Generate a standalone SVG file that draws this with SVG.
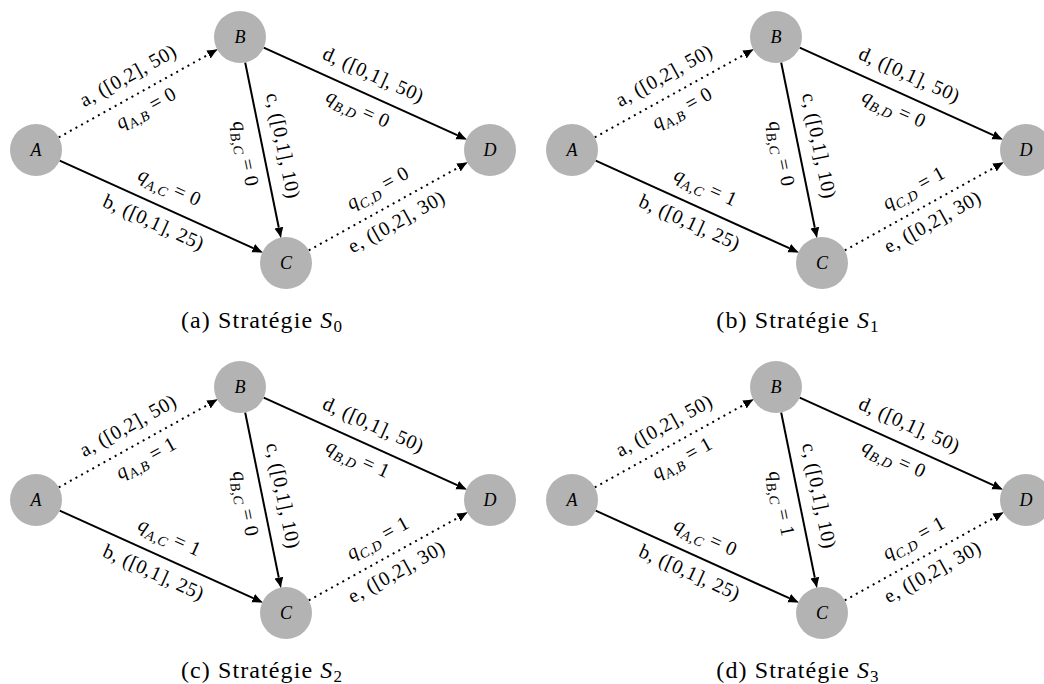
<svg xmlns="http://www.w3.org/2000/svg" width="1044" height="684" viewBox="0 0 1044 684">
<style>
  .node circle { fill: #b3b3b3; stroke: none; }
  .node text { font-family: "Liberation Serif", "DejaVu Serif", serif; font-style: italic; font-size: 18px; text-anchor: middle; fill: #000; }
  .edge { fill: none; stroke: #000; stroke-width: 2; }
  .solid { marker-end: url(#arr); }
  .dotted { stroke-dasharray: 2 4.4; marker-end: url(#arr); }
  .lbl { font-family: "Liberation Serif", "DejaVu Serif", serif; font-size: 20px; letter-spacing: 0.5px; text-anchor: middle; fill: #000; }
  .it { font-style: italic; }
  .sub { font-size: 14px; font-style: italic; }
  .cap { font-family: "Liberation Serif", "DejaVu Serif", serif; font-size: 24px; letter-spacing: 1.1px; text-anchor: middle; fill: #000; }
</style>
<defs>
  <marker id="arr" markerUnits="userSpaceOnUse" markerWidth="13" markerHeight="11" refX="0" refY="5" orient="auto">
    <path d="M0,0.5 Q6,3.6 11,5 Q6,6.4 0,9.5 z" fill="#000"/>
  </marker>
</defs>

<!-- (a) -->
<g id="fig-a">
  <g id="a-edges">
    <line class="edge dotted" x1="58.74" y1="137.40" x2="208.51" y2="54.45"/>
    <line class="edge solid" x1="59.69" y1="160.71" x2="253.20" y2="248.17"/>
    <line class="edge solid" x1="245.19" y1="62.48" x2="278.82" y2="227.72"/>
    <line class="edge solid" x1="263.69" y1="47.71" x2="457.20" y2="135.17"/>
    <line class="edge dotted" x1="308.74" y1="250.40" x2="458.51" y2="167.45"/>
    <g transform="translate(138,93.5) rotate(-28.98)">
      <text class="lbl" y="-14">a, ([0,2], 50)</text>
      <text class="lbl" y="23"><tspan class="it">q</tspan><tspan class="sub" dy="5">A,B</tspan><tspan dy="-5"> = 0</tspan></text>
    </g>
    <g transform="translate(161,206.5) rotate(24.32)">
      <text class="lbl" y="-15"><tspan class="it">q</tspan><tspan class="sub" dy="5">A,C</tspan><tspan dy="-5"> = 0</tspan></text>
      <text class="lbl" y="24">b, ([0,1], 25)</text>
    </g>
    <g transform="translate(263,150) rotate(78.49)">
      <text class="lbl" y="-14">c, ([0,1], 10)</text>
      <text class="lbl" y="24"><tspan class="it">q</tspan><tspan class="sub" dy="5">B,C</tspan><tspan dy="-5"> = 0</tspan></text>
    </g>
    <g transform="translate(365,93.5) rotate(24.32)">
      <text class="lbl" y="-14">d, ([0,1], 50)</text>
      <text class="lbl" y="23"><tspan class="it">q</tspan><tspan class="sub" dy="5">B,D</tspan><tspan dy="-5"> = 0</tspan></text>
    </g>
    <g transform="translate(388,206.5) rotate(-28.98)">
      <text class="lbl" y="-15"><tspan class="it">q</tspan><tspan class="sub" dy="5">C,D</tspan><tspan dy="-5"> = 0</tspan></text>
      <text class="lbl" y="24">e, ([0,2], 30)</text>
    </g>
  </g>
  <g id="a-A" class="node"><circle cx="36" cy="150" r="26"/><text x="36" y="156">A</text></g>
  <g id="a-B" class="node"><circle cx="240" cy="37" r="26"/><text x="240" y="43">B</text></g>
  <g id="a-C" class="node"><circle cx="286" cy="263" r="26"/><text x="286" y="269">C</text></g>
  <g id="a-D" class="node"><circle cx="490" cy="150" r="26"/><text x="490" y="156">D</text></g>
  <text class="cap" x="262" y="328">(a) Stratégie <tspan class="it">S</tspan><tspan font-size="17px" dy="4">0</tspan></text>
</g>

<!-- (b) -->
<g id="fig-b" transform="translate(536,0)">
  <g id="b-edges">
    <line class="edge dotted" x1="58.74" y1="137.40" x2="208.51" y2="54.45"/>
    <line class="edge solid" x1="59.69" y1="160.71" x2="253.20" y2="248.17"/>
    <line class="edge solid" x1="245.19" y1="62.48" x2="278.82" y2="227.72"/>
    <line class="edge solid" x1="263.69" y1="47.71" x2="457.20" y2="135.17"/>
    <line class="edge dotted" x1="308.74" y1="250.40" x2="458.51" y2="167.45"/>
    <g transform="translate(138,93.5) rotate(-28.98)">
      <text class="lbl" y="-14">a, ([0,2], 50)</text>
      <text class="lbl" y="23"><tspan class="it">q</tspan><tspan class="sub" dy="5">A,B</tspan><tspan dy="-5"> = 0</tspan></text>
    </g>
    <g transform="translate(161,206.5) rotate(24.32)">
      <text class="lbl" y="-15"><tspan class="it">q</tspan><tspan class="sub" dy="5">A,C</tspan><tspan dy="-5"> = 1</tspan></text>
      <text class="lbl" y="24">b, ([0,1], 25)</text>
    </g>
    <g transform="translate(263,150) rotate(78.49)">
      <text class="lbl" y="-14">c, ([0,1], 10)</text>
      <text class="lbl" y="24"><tspan class="it">q</tspan><tspan class="sub" dy="5">B,C</tspan><tspan dy="-5"> = 0</tspan></text>
    </g>
    <g transform="translate(365,93.5) rotate(24.32)">
      <text class="lbl" y="-14">d, ([0,1], 50)</text>
      <text class="lbl" y="23"><tspan class="it">q</tspan><tspan class="sub" dy="5">B,D</tspan><tspan dy="-5"> = 0</tspan></text>
    </g>
    <g transform="translate(388,206.5) rotate(-28.98)">
      <text class="lbl" y="-15"><tspan class="it">q</tspan><tspan class="sub" dy="5">C,D</tspan><tspan dy="-5"> = 1</tspan></text>
      <text class="lbl" y="24">e, ([0,2], 30)</text>
    </g>
  </g>
  <g id="b-A" class="node"><circle cx="36" cy="150" r="26"/><text x="36" y="156">A</text></g>
  <g id="b-B" class="node"><circle cx="240" cy="37" r="26"/><text x="240" y="43">B</text></g>
  <g id="b-C" class="node"><circle cx="286" cy="263" r="26"/><text x="286" y="269">C</text></g>
  <g id="b-D" class="node"><circle cx="490" cy="150" r="26"/><text x="490" y="156">D</text></g>
  <text class="cap" x="262" y="328">(b) Stratégie <tspan class="it">S</tspan><tspan font-size="17px" dy="4">1</tspan></text>
</g>

<!-- (c) -->
<g id="fig-c" transform="translate(0,350)">
  <g id="c-edges">
    <line class="edge dotted" x1="58.74" y1="137.40" x2="208.51" y2="54.45"/>
    <line class="edge solid" x1="59.69" y1="160.71" x2="253.20" y2="248.17"/>
    <line class="edge solid" x1="245.19" y1="62.48" x2="278.82" y2="227.72"/>
    <line class="edge solid" x1="263.69" y1="47.71" x2="457.20" y2="135.17"/>
    <line class="edge dotted" x1="308.74" y1="250.40" x2="458.51" y2="167.45"/>
    <g transform="translate(138,93.5) rotate(-28.98)">
      <text class="lbl" y="-14">a, ([0,2], 50)</text>
      <text class="lbl" y="23"><tspan class="it">q</tspan><tspan class="sub" dy="5">A,B</tspan><tspan dy="-5"> = 1</tspan></text>
    </g>
    <g transform="translate(161,206.5) rotate(24.32)">
      <text class="lbl" y="-15"><tspan class="it">q</tspan><tspan class="sub" dy="5">A,C</tspan><tspan dy="-5"> = 1</tspan></text>
      <text class="lbl" y="24">b, ([0,1], 25)</text>
    </g>
    <g transform="translate(263,150) rotate(78.49)">
      <text class="lbl" y="-14">c, ([0,1], 10)</text>
      <text class="lbl" y="24"><tspan class="it">q</tspan><tspan class="sub" dy="5">B,C</tspan><tspan dy="-5"> = 0</tspan></text>
    </g>
    <g transform="translate(365,93.5) rotate(24.32)">
      <text class="lbl" y="-14">d, ([0,1], 50)</text>
      <text class="lbl" y="23"><tspan class="it">q</tspan><tspan class="sub" dy="5">B,D</tspan><tspan dy="-5"> = 1</tspan></text>
    </g>
    <g transform="translate(388,206.5) rotate(-28.98)">
      <text class="lbl" y="-15"><tspan class="it">q</tspan><tspan class="sub" dy="5">C,D</tspan><tspan dy="-5"> = 1</tspan></text>
      <text class="lbl" y="24">e, ([0,2], 30)</text>
    </g>
  </g>
  <g id="c-A" class="node"><circle cx="36" cy="150" r="26"/><text x="36" y="156">A</text></g>
  <g id="c-B" class="node"><circle cx="240" cy="37" r="26"/><text x="240" y="43">B</text></g>
  <g id="c-C" class="node"><circle cx="286" cy="263" r="26"/><text x="286" y="269">C</text></g>
  <g id="c-D" class="node"><circle cx="490" cy="150" r="26"/><text x="490" y="156">D</text></g>
  <text class="cap" x="262" y="328">(c) Stratégie <tspan class="it">S</tspan><tspan font-size="17px" dy="4">2</tspan></text>
</g>

<!-- (d) -->
<g id="fig-d" transform="translate(536,350)">
  <g id="d-edges">
    <line class="edge dotted" x1="58.74" y1="137.40" x2="208.51" y2="54.45"/>
    <line class="edge solid" x1="59.69" y1="160.71" x2="253.20" y2="248.17"/>
    <line class="edge solid" x1="245.19" y1="62.48" x2="278.82" y2="227.72"/>
    <line class="edge solid" x1="263.69" y1="47.71" x2="457.20" y2="135.17"/>
    <line class="edge dotted" x1="308.74" y1="250.40" x2="458.51" y2="167.45"/>
    <g transform="translate(138,93.5) rotate(-28.98)">
      <text class="lbl" y="-14">a, ([0,2], 50)</text>
      <text class="lbl" y="23"><tspan class="it">q</tspan><tspan class="sub" dy="5">A,B</tspan><tspan dy="-5"> = 1</tspan></text>
    </g>
    <g transform="translate(161,206.5) rotate(24.32)">
      <text class="lbl" y="-15"><tspan class="it">q</tspan><tspan class="sub" dy="5">A,C</tspan><tspan dy="-5"> = 0</tspan></text>
      <text class="lbl" y="24">b, ([0,1], 25)</text>
    </g>
    <g transform="translate(263,150) rotate(78.49)">
      <text class="lbl" y="-14">c, ([0,1], 10)</text>
      <text class="lbl" y="24"><tspan class="it">q</tspan><tspan class="sub" dy="5">B,C</tspan><tspan dy="-5"> = 1</tspan></text>
    </g>
    <g transform="translate(365,93.5) rotate(24.32)">
      <text class="lbl" y="-14">d, ([0,1], 50)</text>
      <text class="lbl" y="23"><tspan class="it">q</tspan><tspan class="sub" dy="5">B,D</tspan><tspan dy="-5"> = 0</tspan></text>
    </g>
    <g transform="translate(388,206.5) rotate(-28.98)">
      <text class="lbl" y="-15"><tspan class="it">q</tspan><tspan class="sub" dy="5">C,D</tspan><tspan dy="-5"> = 1</tspan></text>
      <text class="lbl" y="24">e, ([0,2], 30)</text>
    </g>
  </g>
  <g id="d-A" class="node"><circle cx="36" cy="150" r="26"/><text x="36" y="156">A</text></g>
  <g id="d-B" class="node"><circle cx="240" cy="37" r="26"/><text x="240" y="43">B</text></g>
  <g id="d-C" class="node"><circle cx="286" cy="263" r="26"/><text x="286" y="269">C</text></g>
  <g id="d-D" class="node"><circle cx="490" cy="150" r="26"/><text x="490" y="156">D</text></g>
  <text class="cap" x="262" y="328">(d) Stratégie <tspan class="it">S</tspan><tspan font-size="17px" dy="4">3</tspan></text>
</g>
</svg>
